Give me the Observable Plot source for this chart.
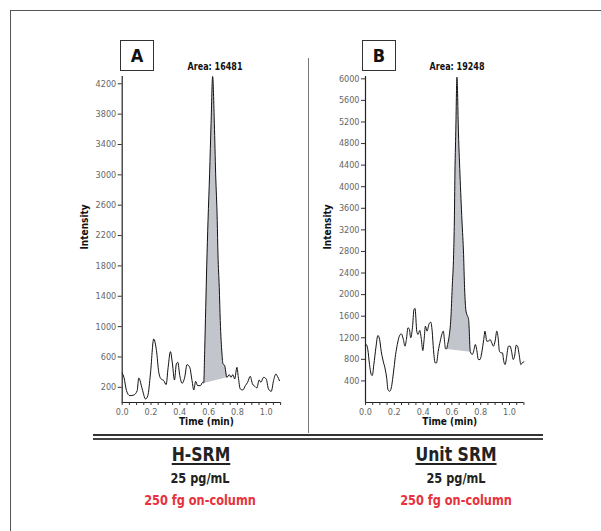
<!DOCTYPE html>
<html>
<head>
<meta charset="utf-8">
<script src="https://cdn.jsdelivr.net/npm/d3@7"></script>
<script src="https://cdn.jsdelivr.net/npm/@observablehq/plot@0.6"></script>
<style>
  html, body { margin: 0; padding: 0; background: #fff; }
  #wrap { position: relative; width: 601px; height: 531px; overflow: hidden; background: #fff;
          font-family: "Liberation Sans Narrow", "DejaVu Sans Condensed", "Roboto", sans-serif; }
  .abs { position: absolute; }
  .box { border: 1.5px solid #333; box-sizing: border-box; width: 34px; height: 31px; text-align: center;
         font-weight: bold; font-size: 18px; line-height: 29px; color: #111; }
  .area { font-weight: bold; font-size: 10.5px; line-height: 10.5px; color: #111; transform: translateX(-50%) scaleX(0.85); white-space: nowrap; }
  .cap { transform: translateX(-50%) scaleX(0.87); white-space: nowrap; font-weight: bold; }
  .big { font-size: 20px; line-height: 20px; color: #222; text-decoration: underline; text-decoration-thickness: 1.5px; text-underline-offset: 2px; }
  .mid { font-size: 14.5px; line-height: 14.5px; color: #222; }
  .red { font-size: 14.5px; line-height: 14.5px; color: #e8323c; }
</style>
</head>
<body>
<div id="wrap">
  <div class="abs" style="left:10px;top:10px;width:700px;height:700px;border-left:1.5px solid #555;border-top:1.5px solid #555;"></div>
  <div id="plotA" class="abs" style="left:0;top:0;"></div>
  <div id="plotB" class="abs" style="left:300px;top:0;"></div>
  <div class="abs box" style="left:120px;top:40px;">A</div>
  <div class="abs box" style="left:362px;top:40px;">B</div>
  <div id="areaA" class="abs area" style="left:215px;top:61px;"></div>
  <div id="areaB" class="abs area" style="left:457px;top:61px;"></div>
  <div class="abs" style="left:308px;top:58px;width:1px;height:375px;background:#777;"></div>
  <div class="abs" style="left:93px;top:434px;width:450px;height:2px;background:#333;"></div>
  <div class="abs" style="left:93px;top:438px;width:450px;height:1.5px;background:#444;"></div>
  <div id="t1A" class="abs cap big" style="left:201px;top:444px;"></div>
  <div id="t2A" class="abs cap mid" style="left:200px;top:471px;"></div>
  <div id="t3A" class="abs cap red" style="left:200px;top:493px;"></div>
  <div id="t1B" class="abs cap big" style="left:456px;top:444px;"></div>
  <div id="t2B" class="abs cap mid" style="left:456px;top:471px;"></div>
  <div id="t3B" class="abs cap red" style="left:456px;top:493px;"></div>
</div>
<script>
// ---- data ----
const methods = ["H-SRM", "Unit SRM"];
const concentrations = ["25 pg/mL", "25 pg/mL"];
const onColumn = ["250 fg on-column", "250 fg on-column"];
const panelLetters = ["A", "B"];
const areas = [16481, 19248];

const timeA = [0.000,0.012,0.030,0.053,0.081,0.104,0.115,0.139,0.162,0.178,0.196,0.219,0.238,0.254,0.270,0.289,0.305,0.319,0.335,0.349,0.363,0.376,0.386,0.400,0.416,0.434,0.450,0.469,0.485,0.497,0.510,0.524,0.543,0.559,0.566,0.573,0.580,0.587,0.596,0.607,0.617,0.628,0.640,0.649,0.660,0.665,0.674,0.681,0.693,0.700,0.711,0.727,0.744,0.755,0.769,0.781,0.797,0.806,0.820,0.838,0.855,0.871,0.889,0.905,0.924,0.935,0.951,0.963,0.982,1.000,1.016,1.035,1.051,1.067,1.079,1.092];
const intensityA = [389,332,156,90,99,156,323,178,46,90,376,837,683,398,310,288,235,464,670,508,297,508,530,354,253,332,499,464,288,165,279,222,222,266,257,700,1250,1800,2398,3014,3673,4297,3673,3014,2398,1958,1519,1079,640,508,490,332,367,332,367,310,464,340,178,165,222,266,345,244,209,191,297,266,332,310,178,147,288,376,341,288];
const peakWindowA = [0.566, 0.727];

const timeB = [0.000,0.005,0.016,0.028,0.040,0.047,0.058,0.072,0.086,0.098,0.109,0.123,0.135,0.147,0.156,0.167,0.179,0.188,0.198,0.209,0.221,0.235,0.249,0.263,0.274,0.284,0.295,0.305,0.314,0.326,0.337,0.344,0.356,0.365,0.377,0.388,0.398,0.407,0.416,0.428,0.440,0.453,0.463,0.472,0.484,0.493,0.505,0.519,0.530,0.540,0.549,0.555,0.563,0.570,0.581,0.593,0.602,0.612,0.617,0.621,0.628,0.632,0.635,0.639,0.644,0.656,0.670,0.681,0.688,0.698,0.709,0.716,0.728,0.742,0.751,0.763,0.772,0.784,0.795,0.807,0.821,0.830,0.842,0.853,0.865,0.877,0.888,0.900,0.912,0.921,0.930,0.942,0.951,0.960,0.970,0.979,0.993,1.005,1.014,1.026,1.035,1.047,1.056,1.067,1.079,1.088,1.100];
const intensityB = [1060,1075,982,703,518,499,703,1013,1242,1168,951,765,641,456,239,208,270,425,641,889,1075,1230,1273,1168,1044,1168,1385,1354,1199,1385,1725,1744,1323,1261,1335,1168,963,1168,1415,1323,1446,1490,1323,982,734,734,951,1137,1261,1323,1137,1000,994,1075,1230,1570,2127,2747,3366,4236,5165,5784,6030,5784,5165,4236,3366,2747,2127,1694,1600,1540,939,889,951,1075,982,796,796,920,1168,1323,1137,1137,1168,1106,1044,1137,1323,1199,951,920,920,765,703,827,1044,1044,951,796,858,1063,1044,889,703,734,753];
const peakWindowB = [0.563, 0.728];

const yTicksA = [200,600,1000,1400,1800,2200,2600,3000,3400,3800,4200];
const yTicksB = [400,800,1200,1600,2000,2400,2800,3200,3600,4000,4400,4800,5200,5600,6000];
const xTicks = [0,0.05,0.1,0.15,0.2,0.25,0.3,0.35,0.4,0.45,0.5,0.55,0.6,0.65,0.7,0.75,0.8,0.85,0.9,0.95,1.0,1.05,1.1];
const xTickLabels = [0,0.2,0.4,0.6,0.8,1.0];
const xLabel = "Time (min)";
const yLabel = "Intensity";

// ---- drawing ----
const FONT = '"Liberation Sans Narrow", "DejaVu Sans Condensed", "Roboto", sans-serif';

function panel(time, intensity, win, yTicks, yMax, marginLeft, width) {
  const data = time.map((t, i) => ({t, v: intensity[i]}));
  const peak = data.filter(d => d.t >= win[0] - 1e-9 && d.t <= win[1] + 1e-9);
  return Plot.plot({
    width, height: 440,
    marginLeft, marginRight: width - marginLeft - 1.1 * 144, marginTop: 76, marginBottom: 38,
    x: {domain: [0, 1.1]},
    y: {domain: [0, yMax]},
    style: {fontFamily: FONT, fontSize: "9px", background: "transparent", overflow: "visible"},
    marks: [
      Plot.line(peak, {x: "t", y: "v", fill: "#c3c5cc", stroke: "none", curve: "monotone-x"}),
      Plot.line(data, {x: "t", y: "v", stroke: "#111", strokeWidth: 1, curve: "monotone-x"}),
      Plot.ruleX([0], {stroke: "#222", strokeWidth: 1.2}),
      Plot.ruleY([0], {stroke: "#222", strokeWidth: 1.2}),
      Plot.axisY(yTicks, {tickSize: 4, tickPadding: 2, label: null, tickFormat: d => String(d), fill: "#666", stroke: "#333"}),
      Plot.axisX(xTicks, {tickSize: 3, tickPadding: 3, label: null,
        tickFormat: d => xTickLabels.some(v => Math.abs(v - d) < 1e-9) ? d.toFixed(1) : "",
        fill: "#666", stroke: "#333"}),
      Plot.text([yLabel], {frameAnchor: "left", rotate: -90, dx: -37.5, dy: 10, fontWeight: "bold", fontSize: 10, fill: "#111"}),
      Plot.text([xLabel], {frameAnchor: "bottom", dy: 22, dx: 5, fontWeight: "bold", fontSize: 10, fill: "#111"})
    ]
  });
}

document.getElementById("plotA").append(panel(timeA, intensityA, peakWindowA, yTicksA, 4296, 121.7, 300));
document.getElementById("plotB").append(panel(timeB, intensityB, peakWindowB, yTicksB, 6043, 65, 300));

document.getElementById("areaA").textContent = "Area: " + areas[0];
document.getElementById("areaB").textContent = "Area: " + areas[1];
document.getElementById("t1A").textContent = methods[0];
document.getElementById("t2A").textContent = concentrations[0];
document.getElementById("t3A").textContent = onColumn[0];
document.getElementById("t1B").textContent = methods[1];
document.getElementById("t2B").textContent = concentrations[1];
document.getElementById("t3B").textContent = onColumn[1];
document.querySelectorAll(".box")[0].textContent = panelLetters[0];
document.querySelectorAll(".box")[1].textContent = panelLetters[1];
</script>
</body>
</html>
